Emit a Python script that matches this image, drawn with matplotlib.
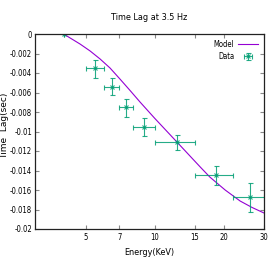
import matplotlib

matplotlib.use("Agg")

import matplotlib.pyplot as plt
from matplotlib.ticker import FixedLocator, FixedFormatter, NullLocator

# dados
energia = [4.0, 5.5, 6.5, 7.5, 9.0, 12.5, 18.5, 26.0]
energia_min = [4.0, 5.0, 6.0, 7.0, 8.0, 10.0, 15.0, 22.0]
energia_max = [4.0, 6.0, 7.0, 8.0, 10.0, 15.0, 22.0, 30.0]
atraso = [0.0, -0.0035, -0.0054, -0.0075, -0.0095, -0.0111, -0.0145, -0.0167]
atraso_sup = [0.0, -0.0027, -0.0045, -0.0067, -0.0086, -0.0104, -0.0135, -0.0153]
atraso_inf = [0.0, -0.0045, -0.0063, -0.0085, -0.0105, -0.0119, -0.0155, -0.0183]

# curva do modelo
modelo_e = [4.0, 4.72, 5.22, 5.77, 6.38, 7.05, 7.80, 8.62, 10.0, 12.5, 15.8, 17.4,
            20.3, 23.6, 26.6, 30.0]
modelo_lag = [0.0, -0.00103, -0.00174, -0.00256, -0.00349, -0.00462, -0.00579, -0.00697,
              -0.00865, -0.01108, -0.01364, -0.01467, -0.0160, -0.01713, -0.01779, -0.01836]

xticks = [5, 7, 10, 15, 20, 30]
yticks = [0, -0.002, -0.004, -0.006, -0.008, -0.01, -0.012, -0.014, -0.016, -0.018, -0.02]
ytick_labels = ["0", "-0.002", "-0.004", "-0.006", "-0.008", "-0.01",
                "-0.012", "-0.014", "-0.016", "-0.018", "-0.02"]

ROXO = "#9400d3"
VERDE = "#009e73"
FONTE = ["Liberation Sans Narrow", "DejaVu Sans"]

fig = plt.figure(figsize=(2.74, 2.62), dpi=100)
ax = fig.add_axes([35 / 274, 1 - 229 / 262, 229 / 274, 195 / 262])

xerr = [[e - lo for e, lo in zip(energia, energia_min)],
        [hi - e for e, hi in zip(energia, energia_max)]]
yerr = [[a - lo for a, lo in zip(atraso, atraso_inf)],
        [hi - a for a, hi in zip(atraso, atraso_sup)]]

ax.plot(modelo_e, modelo_lag, color=ROXO, lw=0.8, label="Model")
ax.errorbar(energia, atraso, xerr=xerr, yerr=yerr, fmt="x", color=VERDE,
            ms=3, mew=0.8, elinewidth=0.8, capsize=1.8, capthick=0.8,
            alpha=0.85, label="Data")

ax.set_xscale("log")
ax.set_xlim(3, 30)
ax.set_ylim(-0.02, 0)
ax.xaxis.set_major_locator(FixedLocator(xticks))
ax.xaxis.set_major_formatter(FixedFormatter([str(t) for t in xticks]))
ax.xaxis.set_minor_locator(NullLocator())
ax.yaxis.set_major_locator(FixedLocator(yticks))
ax.yaxis.set_major_formatter(FixedFormatter(ytick_labels))

ax.tick_params(direction="in", length=3, width=0.8, color="#888888",
               top=True, right=True, labelsize=5.5, pad=3)
ax.tick_params(axis="y", pad=2)
for lbl in ax.get_xticklabels() + ax.get_yticklabels():
    lbl.set_family(FONTE)
    lbl.set_fontstretch("condensed")

for sp in ax.spines.values():
    sp.set_linewidth(0.9)
    sp.set_color("#222222")

ax.set_title("Time Lag at 3.5 Hz", fontsize=6.5, family=FONTE, fontstretch="condensed", pad=10)
ax.set_xlabel("Energy(KeV)", fontsize=6.5, family=FONTE, fontstretch="condensed", labelpad=4)
ax.set_ylabel("Time  Lag(sec)", fontsize=6.5, family="DejaVu Sans")
ax.yaxis.set_label_coords(-0.113, 0.53)

leg = ax.legend(loc="upper right", frameon=False, markerfirst=False,
                handlelength=2.6, handletextpad=0.5, borderaxespad=0.4,
                labelspacing=0.4,
                prop={"family": FONTE, "size": 5.5, "stretch": "condensed"})

fig.savefig("out.png", dpi=100)
